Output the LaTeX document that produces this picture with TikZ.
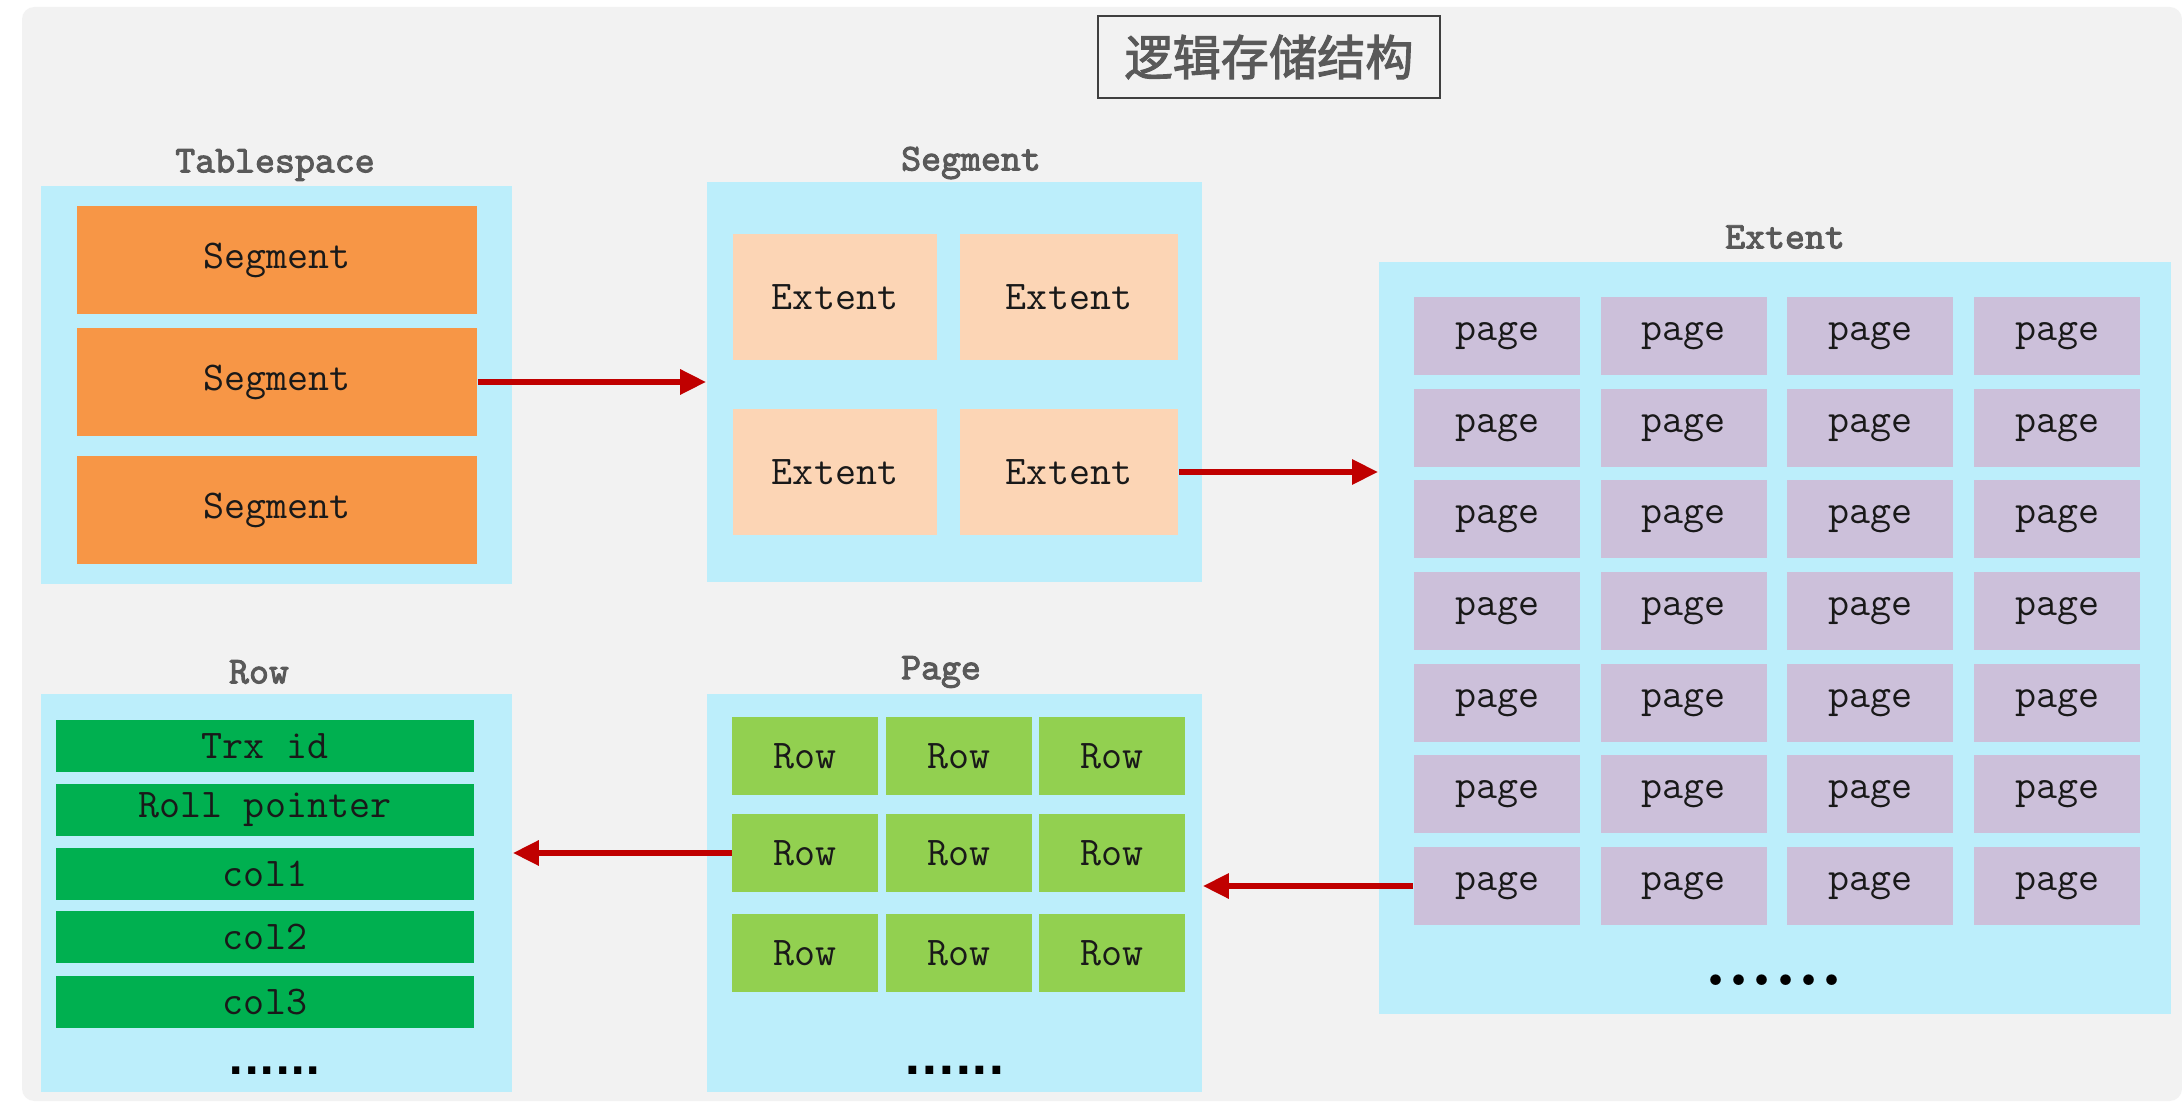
\documentclass[tikz,border=0pt]{standalone}
\usepackage{fontspec}
\newfontfamily\cjkfont{Noto Sans CJK SC}[FakeBold=2.2]
\newfontfamily\hdrfont{Latin Modern Mono}[FakeBold=2.5]
\newfontfamily\dotfont{DejaVu Sans}
\usetikzlibrary{arrows.meta,positioning}
\definecolor{lsbg}{HTML}{F2F2F2}
\definecolor{lscyan}{HTML}{BCEEFB}
\definecolor{lsorange}{HTML}{F79646}
\definecolor{lspeach}{HTML}{FCD5B5}
\definecolor{lslilac}{HTML}{CCC0DA}
\definecolor{lslime}{HTML}{92D050}
\definecolor{lsgreen}{HTML}{00B050}
\definecolor{lsred}{HTML}{C00000}
\definecolor{lsgrey}{HTML}{595959}
\definecolor{lsdark}{HTML}{3F3F3F}
\tikzset{
  holder/.style   = {fill=lscyan, inner sep=0pt},
  cell/.style     = {inner sep=0pt, text=black!90,
                     font=\fontsize{11.6}{13}\selectfont\ttfamily},
  segcell/.style  = {cell, fill=lsorange, minimum width=4.0cm, minimum height=1.08cm},
  extcell/.style  = {cell, fill=lspeach, minimum height=1.25cm},
  pagecell/.style = {cell, fill=lslilac, minimum width=1.66cm, minimum height=0.78cm},
  rowcell/.style  = {cell, fill=lslime, minimum width=1.45cm, minimum height=0.78cm},
  field/.style    = {cell, fill=lsgreen, minimum width=4.17cm, minimum height=0.52cm},
  hdr/.style      = {inner sep=1pt, text=lsgrey,
                     font=\hdrfont\fontsize{10.8}{12}\selectfont},
  dots/.style     = {inner sep=0pt, text=black, font=\dotfont\bfseries},
  titlebox/.style = {draw=lsdark, line width=0.6pt, fill=lsbg, text=lsgrey,
                     minimum width=3.42cm, minimum height=0.82cm, inner sep=0pt,
                     font=\cjkfont\fontsize{13.7}{15}\selectfont},
  link/.style     = {-{Triangle[length=2.6mm,width=2.4mm]}, draw=lsred,
                     line width=1.7pt},
}
\begin{document}
\begin{tikzpicture}[x=0.01cm,y=-0.01cm]
  \useasboundingbox (0,0) rectangle (2182,1104);
  \fill[white] (0,0) rectangle (2182,1104);
  \fill[lsbg, rounded corners=3.5pt] (22,7) rectangle (2182,1101);

  \node[titlebox] (title) at (1269,57) {逻辑存储结构};

  % ---- Tablespace ----
  \node[holder, minimum width=4.71cm, minimum height=3.98cm] (tsbox) at (276.5,385) {};
  \node[hdr] (tslbl) at (275,165) {Tablespace};
  \foreach \n/\y in {1/260,2/382,3/510}
    \node[segcell] (seg\n) at (277,\y) {Segment};

  % ---- Segment ----
  \node[holder, minimum width=4.95cm, minimum height=4.0cm] (segbox) at (954.5,382) {};
  \node[hdr] (seglbl) at (971,163) {Segment};
  \node[extcell, minimum width=2.04cm] (ext11) at (835,297) {Extent};
  \node[extcell, minimum width=2.18cm] (ext12) at (1069,297) {Extent};
  \node[extcell, minimum width=2.04cm] (ext21) at (835,472) {Extent};
  \node[extcell, minimum width=2.18cm] (ext22) at (1069,472) {Extent};

  % ---- Extent ----
  \node[holder, minimum width=7.92cm, minimum height=7.52cm] (extbox) at (1775,638) {};
  \node[hdr] (extlbl) at (1785,237) {Extent};
  \foreach \r in {1,...,7}
    \foreach \c in {1,...,4}
      \node[pagecell] (pg\r\c) at ({1497+186.7*(\c-1)},{336+91.67*(\r-1)}) {page};
  \node[dots, font=\rmfamily\bfseries\fontsize{21}{21}\selectfont] (extdots) at (1774,980) {......};

  % ---- Page ----
  \node[holder, minimum width=4.95cm, minimum height=3.98cm] (pagebox) at (954.5,893) {};
  \node[hdr] (pagelbl) at (941,672) {Page};
  \foreach \r/\y in {1/756,2/853,3/953}
    \foreach \c/\x in {1/805,2/959,3/1112}
      \node[rowcell] (rw\r\c) at (\x,\y) {Row};
  \node[dots, font=\dotfont\bfseries\fontsize{12.5}{13}\selectfont] (pagedots) at (955,1070) {......};

  % ---- Row ----
  \node[holder, minimum width=4.71cm, minimum height=3.98cm] (rowbox) at (276.5,893) {};
  \node[hdr] (rowlbl) at (259,672) {Row};
  \foreach \n/\y/\t in {1/746/Trx id,2/810/Roll pointer,3/874/col1,4/937/col2,5/1002/col3}
    \node[field] (fld\n) at (265,\y) {\t};
  \node[dots, font=\dotfont\bfseries\fontsize{11.5}{12}\selectfont] (rowdots) at (275,1071) {......};

  % ---- connectors ----
  \draw[link] (seg2.east) -- (seg2.east -| segbox.west);
  \draw[link] (ext22.east) -- (ext22.east -| extbox.west);
  \draw[link] (pg71.west) -- (pg71.west -| pagebox.east);
  \draw[link] (rw21.west) -- (rw21.west -| rowbox.east);

\end{tikzpicture}
\end{document}
